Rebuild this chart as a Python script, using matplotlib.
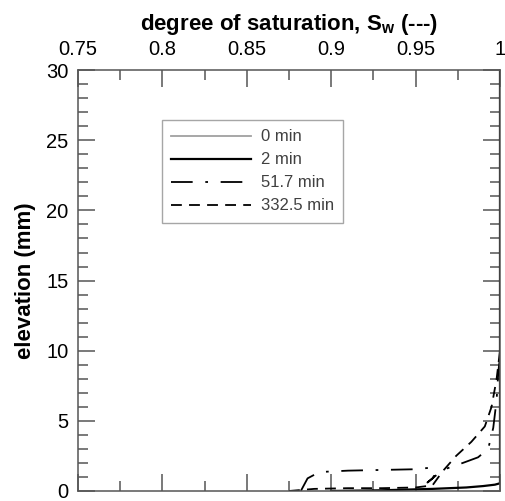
import matplotlib
matplotlib.use('Agg')
import matplotlib.pyplot as plt
from matplotlib.ticker import MultipleLocator, FixedLocator

plt.rcParams['font.family'] = ['Liberation Sans', 'DejaVu Sans']
plt.rcParams['mathtext.default'] = 'regular'

# saturation profiles (Sw, elevation in mm)
sw_0 = [1.0, 1.0]
z_0 = [0.0, 30.0]

sw_2 = [0.90, 0.93, 0.96, 0.98, 0.99, 0.997, 1.0, 1.0]
z_2 = [0.0, 0.05, 0.15, 0.25, 0.35, 0.45, 0.55, 30.0]

sw_52 = [0.882, 0.886, 0.893, 0.91, 0.93, 0.95, 0.958, 0.962, 0.960, 0.957,
         0.966, 0.978, 0.987, 0.993, 0.996, 0.998, 0.999, 1.0, 1.0]
z_52 = [0.0, 0.9, 1.35, 1.45, 1.5, 1.55, 1.65, 1.3, 0.9, 0.6,
        1.5, 2.0, 2.4, 3.0, 4.5, 6.5, 8.5, 9.5, 30.0]

sw_332 = [0.875, 0.89, 0.91, 0.93, 0.95, 0.96, 0.966, 0.974, 0.983,
          0.991, 0.995, 0.998, 1.0, 1.0]
z_332 = [0.0, 0.15, 0.2, 0.2, 0.25, 0.4, 1.4, 2.5, 3.5,
         4.6, 6.0, 8.0, 10.0, 30.0]

labels = ['0 min', '2 min', '51.7 min', '332.5 min']
xticks = [0.75, 0.8, 0.85, 0.9, 0.95, 1.0]
xticklabels = ['0.75', '0.8', '0.85', '0.9', '0.95', '1']

fig = plt.figure(figsize=(5.05, 5.01), dpi=100)
ax = fig.add_axes([0.1545, 0.02, 0.8356, 0.840])

ax.plot(sw_0, z_0, color='#a0a0a0', lw=1.3, label=labels[0])
ax.plot(sw_2, z_2, color='black', lw=1.6, label=labels[1])
ax.plot(sw_52, z_52, color='black', lw=1.3, dashes=(12, 7, 1.5, 7),
        label=labels[2])
ax.plot(sw_332, z_332, color='black', lw=1.3, dashes=(6, 4), label=labels[3])

ax.set_xlim(0.75, 1.0)
ax.set_ylim(0, 30)

ax.xaxis.set_major_locator(FixedLocator(xticks))
ax.set_xticklabels(xticklabels)
ax.xaxis.set_minor_locator(MultipleLocator(0.025))
ax.yaxis.set_major_locator(MultipleLocator(5))
ax.yaxis.set_minor_locator(MultipleLocator(1))

ax.xaxis.tick_top()
ax.xaxis.set_label_position('top')
ax.tick_params(which='both', direction='in', top=True, bottom=True,
               left=True, right=True, colors='#555555', labelcolor='black',
               labelsize=14.5)
ax.tick_params(axis='x', which='major', length=12, width=1.1, pad=8)
ax.tick_params(axis='y', which='major', length=12, width=1.1, pad=7)
ax.tick_params(which='minor', length=7.5, width=1.1)
for s in ax.spines.values():
    s.set_color('#555555')
    s.set_linewidth(1.1)

ax.set_xlabel('degree of saturation, S$_{w}$ (---)', fontsize=16,
              fontweight='bold', labelpad=7)
ax.set_ylabel('elevation (mm)', fontsize=16, fontweight='bold', labelpad=7)

leg = ax.legend(loc='upper left', bbox_to_anchor=(0.199, 0.881),
                fontsize=12, frameon=True, fancybox=False, handlelength=4.8,
                borderpad=0.55, labelspacing=0.48, handletextpad=0.6,
                borderaxespad=0)
leg.get_frame().set_edgecolor('#909090')
leg.get_frame().set_linewidth(1.0)
for t in leg.get_texts():
    t.set_color('#404040')

fig.savefig('out.png', dpi=100)
